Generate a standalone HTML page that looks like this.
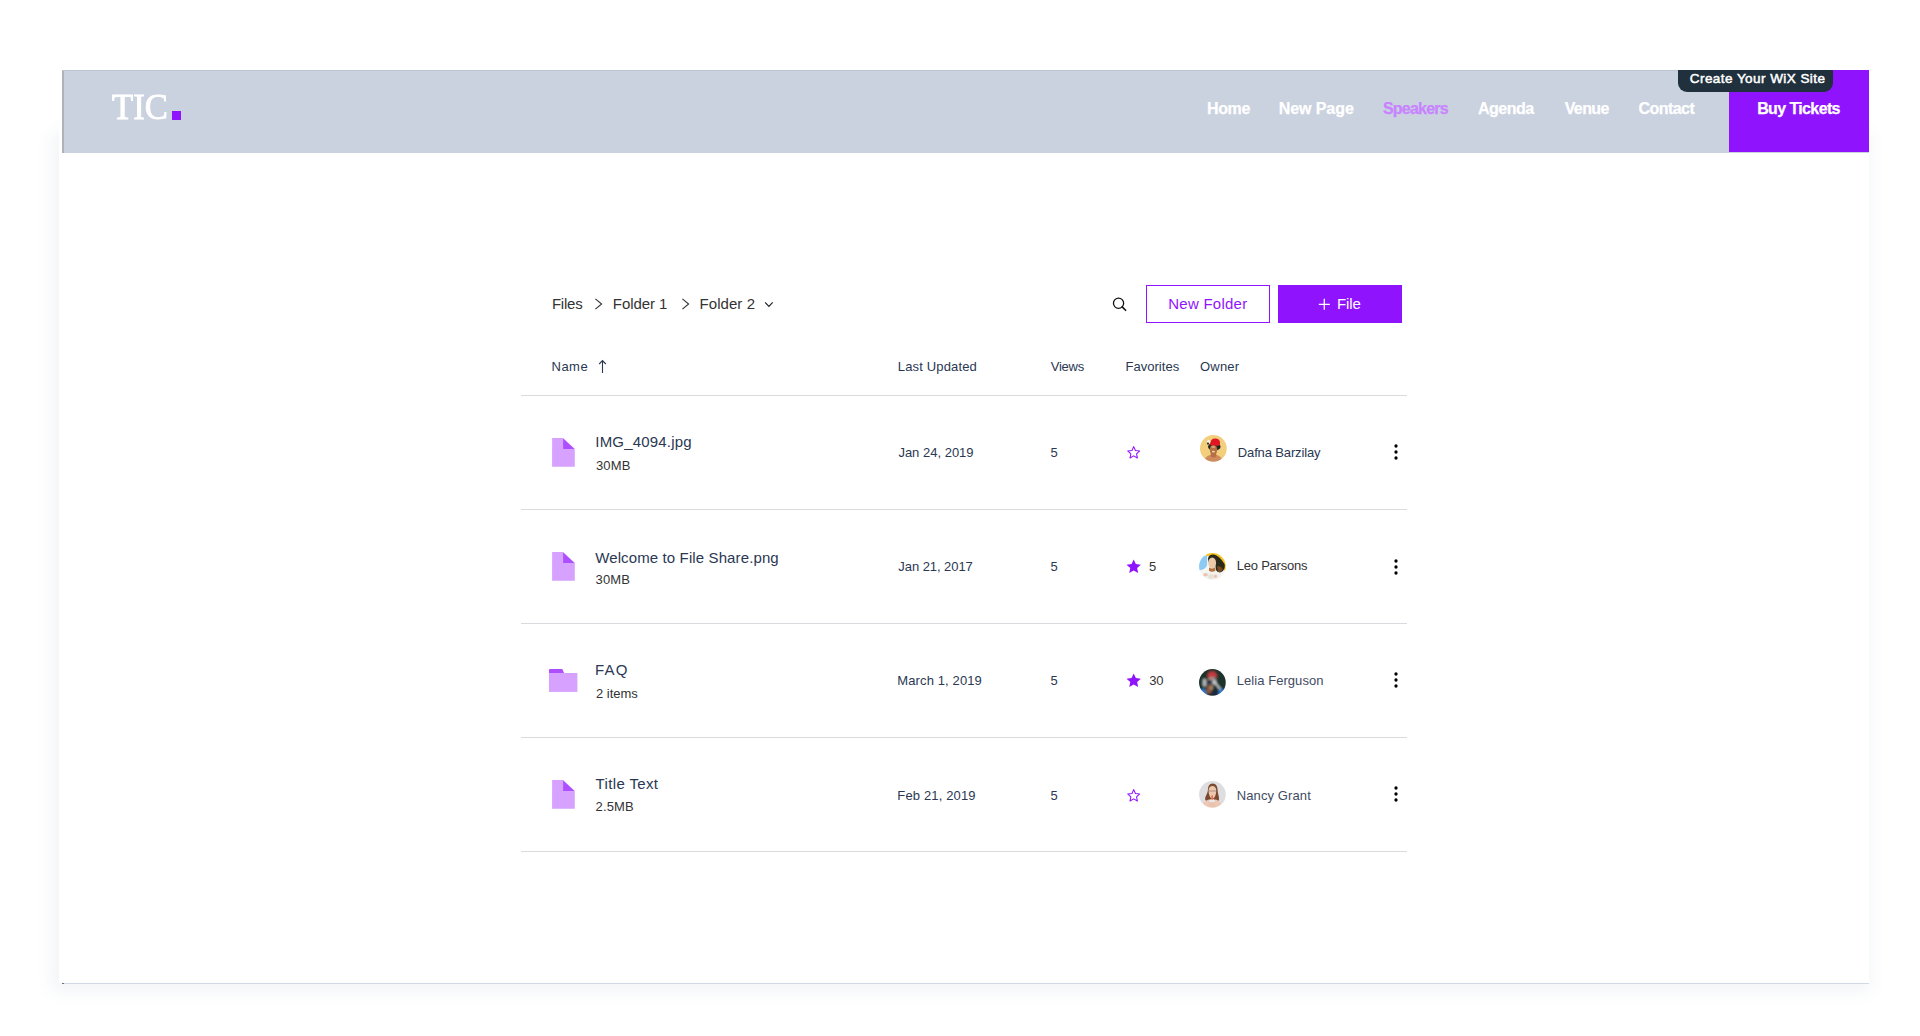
<!DOCTYPE html>
<html lang="en"><head><meta charset="utf-8"><title>TIC. – Files</title>
<style>
html,body{margin:0;padding:0;background:#fff}
body{width:1920px;height:1036px;position:relative;overflow:hidden;font-family:"Liberation Sans", sans-serif;}
header,nav,main,section{display:block;margin:0;padding:0}
.t{position:absolute;white-space:pre;line-height:1;}
.i{position:absolute;display:block;overflow:visible}
/* page card + soft drop shadow */
.card{position:absolute;left:59px;top:132px;width:1810px;height:851px;background:#fff;box-shadow:-3px 4px 16px 4px rgba(75,95,135,.07)}
.cardw{position:absolute;left:59px;top:60px;width:1810px;height:923px;background:#fff}
.cardline{position:absolute;left:62px;top:982.5px;width:1807px;height:1.5px;background:#d3d9e4}
.carddot{position:absolute;left:62px;top:982.5px;width:2px;height:1.5px;background:#6a6f78}
/* site header */
.hdr{position:absolute;left:62px;top:70px;width:1807px;height:83.3px;background:#cad1df;box-sizing:border-box;border-left:2px solid #afb2b9}
.hdrtop{position:absolute;left:62px;top:70px;width:1807px;height:1px;background:#bdc4d2}
.buy{position:absolute;left:1729px;top:70px;width:140px;height:82.3px;background:#9013fe}
.badge{position:absolute;left:1677.5px;top:70px;width:155.5px;height:22px;background:#20303c;border-radius:0 0 9px 9px}
.logo{position:absolute;white-space:pre;line-height:1;font-family:"Liberation Serif", serif;color:#fff;transform-origin:0 0;left:112.3px;top:89px;font-size:36.5px;transform:scaleX(.95);-webkit-text-stroke:.9px #fff}
.sq{position:absolute;left:172px;top:111px;width:9px;height:9px;background:#9013fe}
/* file manager */
.hr{position:absolute;left:521px;width:886px;height:1px;background:#d9dadd}
.btn1{position:absolute;left:1146px;top:285px;width:124px;height:38px;box-sizing:border-box;border:1px solid #9013fe;background:#fff}
.btn2{position:absolute;left:1278px;top:285px;width:124px;height:38px;background:#9013fe}
</style></head><body>
<div class="card"></div><div class="cardw"></div><div class="cardline"></div><div class="carddot"></div>
<header>
<div class="hdr"></div><div class="hdrtop"></div>
<span class="logo">TIC</span><div class="sq"></div>
<nav>
<div class="buy"></div><div class="badge"></div>
<a class="t" style="left:1206.9px;top:101px;font-size:16px;letter-spacing:-0.3px;color:#ffffff;font-weight:700;-webkit-text-stroke:.25px #fff;">Home</a>
<a class="t" style="left:1278.7px;top:101px;font-size:16px;letter-spacing:-0.07px;color:#ffffff;font-weight:700;-webkit-text-stroke:.25px #fff;">New Page</a>
<a class="t" style="left:1382.9px;top:101px;font-size:16px;letter-spacing:-0.77px;color:#c883ff;font-weight:700;-webkit-text-stroke:.25px #c883ff;">Speakers</a>
<a class="t" style="left:1477.9px;top:101px;font-size:16px;letter-spacing:-0.46px;color:#ffffff;font-weight:700;-webkit-text-stroke:.25px #fff;">Agenda</a>
<a class="t" style="left:1564.7px;top:101px;font-size:16px;letter-spacing:-0.62px;color:#ffffff;font-weight:700;-webkit-text-stroke:.25px #fff;">Venue</a>
<a class="t" style="left:1638.4px;top:101px;font-size:16px;letter-spacing:-0.53px;color:#ffffff;font-weight:700;-webkit-text-stroke:.25px #fff;">Contact</a>
<a class="t" style="left:1757.2px;top:101px;font-size:16px;letter-spacing:-0.62px;color:#ffffff;font-weight:700;-webkit-text-stroke:.25px #fff;">Buy Tickets</a>
<a class="t" style="left:1689.8px;top:72px;font-size:13.5px;letter-spacing:0.44px;color:#ffffff;-webkit-text-stroke:.5px #fff;">Create Your WiX Site</a>
</nav>
</header>
<main>
<section class="toolbar">
<a class="t" style="left:551.9px;top:296px;font-size:15px;letter-spacing:-0.22px;color:#333333;">Files</a>
<a class="t" style="left:612.8px;top:296px;font-size:15px;letter-spacing:-0.07px;color:#333333;">Folder 1</a>
<a class="t" style="left:699.5px;top:296px;font-size:15px;letter-spacing:0.07px;color:#333333;">Folder 2</a>
<svg class="i" style="left:594px;top:297px" width="10" height="14" viewBox="0 0 10 14"><path d="M1.4 1.9L7.6 7L1.4 12.1" fill="none" stroke="#333" stroke-width="1.1"/></svg>
<svg class="i" style="left:681px;top:297px" width="10" height="14" viewBox="0 0 10 14"><path d="M1.4 1.9L7.6 7L1.4 12.1" fill="none" stroke="#333" stroke-width="1.1"/></svg>
<svg class="i" style="left:763px;top:300px" width="12" height="9" viewBox="0 0 12 9"><path d="M2.1 2.4L5.9 6.3L9.7 2.4" fill="none" stroke="#222" stroke-width="1.2"/></svg>
<svg class="i" style="left:1111px;top:296px" width="17" height="17" viewBox="0 0 17 17"><circle cx="7.55" cy="7.25" r="5.1" fill="none" stroke="#111" stroke-width="1.3"/><path d="M11.2 10.9L14.6 14.3" stroke="#111" stroke-width="1.6" stroke-linecap="round" fill="none"/></svg>
<div class="btn1"></div><div class="btn2"></div>
<svg class="i" style="left:1318px;top:298px" width="13" height="13" viewBox="0 0 13 13"><path d="M6.3 0.8V11.8M0.8 6.3H11.8" stroke="#fff" stroke-width="1.3" fill="none"/></svg>
<span class="t" style="left:1168.2px;top:296px;font-size:15px;letter-spacing:0.26px;color:#9013fe;">New Folder</span>
<span class="t" style="left:1337.0px;top:296px;font-size:15px;letter-spacing:-0.07px;color:#ffffff;">File</span>
</section>
<section class="thead">
<span class="t" style="left:551.5px;top:360px;font-size:13px;letter-spacing:0.5px;color:#2a3853;">Name</span>
<span class="t" style="left:897.8px;top:360px;font-size:13px;letter-spacing:0.15px;color:#2a3853;">Last Updated</span>
<span class="t" style="left:1050.8px;top:360px;font-size:13px;letter-spacing:-0.25px;color:#2a3853;">Views</span>
<span class="t" style="left:1125.4px;top:360px;font-size:13px;letter-spacing:0.05px;color:#2a3853;">Favorites</span>
<span class="t" style="left:1200.0px;top:360px;font-size:13px;letter-spacing:0.2px;color:#2a3853;">Owner</span>
<svg class="i" style="left:597px;top:359px" width="11" height="15" viewBox="0 0 11 15"><path d="M5.5 14V1.8M2.2 5L5.5 1.6L8.8 5" fill="none" stroke="#2a3853" stroke-width="1.1"/></svg>
<div class="hr" style="top:395px"></div>
</section>
<section class="row">
<svg class="i" style="left:552px;top:438px" width="23" height="29" viewBox="0 0 23 29"><path d="M.1 0H11.1L22.800 10.900V28.700H.1Z" fill="#d6a1ff"/><path d="M11.1 .4L22.500 11H11.1Z" fill="#ad4fff"/></svg>
<svg class="i" style="left:1126px;top:445px" width="16" height="15" viewBox="0 0 16 15"><path d="M7.7 1.6L9.45 5.5L13.7 5.95L10.55 8.8L11.4 13L7.7 10.85L4 13L4.85 8.8L1.7 5.95L5.95 5.5Z" fill="none" stroke="#9013fe" stroke-width="1.08" stroke-linejoin="round"/></svg>
<svg class="i" style="left:1200.2px;top:435.2px" width="26.8" height="26.8" viewBox="0 0 26.8 26.8"><defs><clipPath id="c1"><circle cx="13.4" cy="13.4" r="13.35"/></clipPath><filter id="b1" x="-10%" y="-10%" width="120%" height="120%"><feGaussianBlur stdDeviation="0.55"/></filter></defs><g clip-path="url(#c1)"><g filter="url(#b1)">
<rect x="-3" y="-3" width="33" height="33" fill="#f3ce7c"/>
<path d="M3.5 27C4.5 22.5 8.500 20.300 11 19.800L16 19.800C18.500 20.300 22 22.500 23.300 27Z" fill="#cf8a5d"/>
<path d="M10.800 16.500H16.200V21.500C14.500 23 12.500 23 10.800 21.500Z" fill="#b66f42"/>
<ellipse cx="14.300" cy="11.800" rx="6.300" ry="3.900" fill="#1e2a22"/>
<ellipse cx="13.500" cy="14.800" rx="3.700" ry="5" fill="#b5703f"/>
<ellipse cx="13.300" cy="12" rx="2.100" ry="1.100" fill="#d9a77c"/>
<ellipse cx="13.400" cy="16.600" rx="1.600" ry=".9" fill="#e9d2bf"/>
<path d="M10.300 10.600C9.700 6.500 12 3.300 14.800 3.600C16.300 3 19 3.900 19.800 6.200C20.600 8.800 19.500 10.800 17.600 10.900C15 11 12.500 9.500 10.300 10.600Z" fill="#e01222"/>
<circle cx="8.700" cy="6.700" r="1.700" fill="#f6f3f0"/>
<circle cx="8" cy="8.600" r="1.100" fill="#2a2f2a"/>
</g></g></svg>
<svg class="i" style="left:1393px;top:443.2px" width="6" height="18" viewBox="0 0 6 18"><circle cx="3" cy="3" r="1.65" fill="#000"/><circle cx="3" cy="9" r="1.65" fill="#000"/><circle cx="3" cy="15" r="1.65" fill="#000"/></svg>
<span class="t" style="left:595.3px;top:434px;font-size:15px;letter-spacing:0.18px;color:#2a3853;">IMG_4094.jpg</span>
<span class="t" style="left:596.0px;top:459px;font-size:13px;letter-spacing:0.13px;color:#333333;">30MB</span>
<span class="t" style="left:898.4px;top:446px;font-size:13px;letter-spacing:0.0px;color:#2a3853;">Jan 24, 2019</span>
<span class="t" style="left:1050.6px;top:446px;font-size:13px;letter-spacing:0px;color:#2a3853;">5</span>
<span class="t" style="left:1237.8px;top:446px;font-size:13px;letter-spacing:-0.14px;color:#2a3853;">Dafna Barzilay</span>
<div class="hr" style="top:509px"></div>
</section>
<section class="row">
<svg class="i" style="left:552px;top:552px" width="23" height="29" viewBox="0 0 23 29"><path d="M.1 0H11.1L22.800 10.900V28.700H.1Z" fill="#d6a1ff"/><path d="M11.1 .4L22.500 11H11.1Z" fill="#ad4fff"/></svg>
<svg class="i" style="left:1126px;top:559px" width="16" height="15" viewBox="0 0 16 15"><path d="M7.7 0.4L9.85 5.1L14.9 5.65L11.15 9.1L12.15 14.1L7.7 11.6L3.25 14.1L4.25 9.1L0.5 5.65L5.55 5.1Z" fill="#9013fe"/></svg>
<svg class="i" style="left:1199.4px;top:552.9px" width="26.8" height="26.8" viewBox="0 0 26.8 26.8"><defs><clipPath id="c2"><circle cx="13.4" cy="13.4" r="13.35"/></clipPath><filter id="b2" x="-10%" y="-10%" width="120%" height="120%"><feGaussianBlur stdDeviation="0.55"/></filter></defs><g clip-path="url(#c2)"><g filter="url(#b2)">
<rect x="-3" y="-3" width="33" height="33" fill="#f8f6f3"/>
<path d="M7 -2H30V19C26 19 22 14 19 9C16 5 11 3 7 3Z" fill="#f4c220"/>
<path d="M-2 4C3 2.500 6 2.800 8.100 2.800V12C7 15.500 4 17.500 -2 17.200Z" fill="#8ecbf3"/>
<path d="M9 5.500C9.500 2 13.500 .6 17 2.200C21 4 23.500 8 25.600 11C26.500 15 24.500 19 20.500 19.500C17.500 19.500 16.500 16 16.500 13L9.500 9Z" fill="#2a2a1f"/>
<path d="M18 13.500C20.500 13 23 14 23.500 16.500C22.800 18.800 21 19.500 19 18.800Z" fill="#7a4a22"/>
<ellipse cx="13.200" cy="10" rx="3.900" ry="5.600" fill="#ecc9a8"/>
<path d="M10 14.500C11.500 16 14.500 16 16 14.200L16.500 17.800C14.500 19.200 11.500 19.200 10 17.800Z" fill="#b2713a"/>
<path d="M2 27C3 21 7 18.600 10 18.200C12 19.600 14.500 19.600 16.500 18.200C20 18.600 23.500 21 24.500 27Z" fill="#f3f1ee"/>
<ellipse cx="6.500" cy="21.800" rx="2.300" ry="1.800" fill="#ecc4ae"/>
<ellipse cx="16.500" cy="23.300" rx="1.700" ry="1.700" fill="#ecc4ae"/>
<ellipse cx="12" cy="23.500" rx="3" ry="2.200" fill="#e6e2da"/>
</g></g></svg>
<svg class="i" style="left:1393px;top:557.5px" width="6" height="18" viewBox="0 0 6 18"><circle cx="3" cy="3" r="1.65" fill="#000"/><circle cx="3" cy="9" r="1.65" fill="#000"/><circle cx="3" cy="15" r="1.65" fill="#000"/></svg>
<span class="t" style="left:595.2px;top:550px;font-size:15px;letter-spacing:0.12px;color:#2a3853;">Welcome to File Share.png</span>
<span class="t" style="left:595.6px;top:573px;font-size:13px;letter-spacing:0.13px;color:#333333;">30MB</span>
<span class="t" style="left:898.3px;top:560px;font-size:13px;letter-spacing:-0.06px;color:#2a3853;">Jan 21, 2017</span>
<span class="t" style="left:1050.6px;top:560px;font-size:13px;letter-spacing:0px;color:#2a3853;">5</span>
<span class="t" style="left:1149.0px;top:560px;font-size:13px;letter-spacing:0px;color:#333333;">5</span>
<span class="t" style="left:1236.8px;top:559px;font-size:13px;letter-spacing:-0.23px;color:#333333;">Leo Parsons</span>
<div class="hr" style="top:623px"></div>
</section>
<section class="row">
<svg class="i" style="left:549px;top:669px" width="29" height="23" viewBox="0 0 29 23"><path d="M0 .7Q0 0 .7 0H13.300L15.100 4.100H0Z" fill="#ad4fff"/><rect x="0" y="4" width="28.400" height="18.900" fill="#d6a1ff"/></svg>
<svg class="i" style="left:1126px;top:673px" width="16" height="15" viewBox="0 0 16 15"><path d="M7.7 0.4L9.85 5.1L14.9 5.65L11.15 9.1L12.15 14.1L7.7 11.6L3.25 14.1L4.25 9.1L0.5 5.65L5.55 5.1Z" fill="#9013fe"/></svg>
<svg class="i" style="left:1199.4px;top:669.0px" width="26.8" height="26.8" viewBox="0 0 26.8 26.8"><defs><clipPath id="c3"><circle cx="13.4" cy="13.4" r="13.35"/></clipPath><filter id="b3" x="-10%" y="-10%" width="120%" height="120%"><feGaussianBlur stdDeviation="0.8"/></filter></defs><g clip-path="url(#c3)"><g filter="url(#b3)">
<rect x="-3" y="-3" width="33" height="33" fill="#1c3329"/>
<path d="M2 27V20.500L5.500 19L8 27Z" fill="#2f7bd0"/>
<path d="M19 27L20.500 19L23.500 19.500L25.500 24V27Z" fill="#2f7bd0"/>
<path d="M8 27L9.500 20H17.500L19 27Z" fill="#1b2a3a"/>
<ellipse cx="13" cy="12.300" rx="4.600" ry="4.800" fill="#8c8e92"/>
<path d="M8.400 8.800C8.200 4.500 10.500 2.600 13.200 2.600S18.200 4.500 18 8.800C15 7.900 11.400 7.900 8.400 8.800Z" fill="#c23a40"/>
<rect x="9.500" y="9.300" width="4.500" height="2.200" fill="#d9a57c"/>
<rect x="8" y="10.800" width="6" height="4.800" rx=".8" fill="#2a3140"/>
<ellipse cx="15" cy="13" rx="1.900" ry="1.800" fill="#c9cbd0"/>
<path d="M15 13.500L16.300 12.500L21.800 19.800L20.600 20.800Z" fill="#d6d7da"/>
<rect x="3.800" y="9.800" width="3.600" height="7.800" rx="1.600" fill="#b4b7bc"/>
<path d="M7 24L8 16.500L13.500 15.500L13 22L10 25Z" fill="#8c5a3a"/>
<circle cx="12.500" cy="19" r="1.300" fill="#c9a48a"/>
</g></g></svg>
<svg class="i" style="left:1393px;top:671.4px" width="6" height="18" viewBox="0 0 6 18"><circle cx="3" cy="3" r="1.65" fill="#000"/><circle cx="3" cy="9" r="1.65" fill="#000"/><circle cx="3" cy="15" r="1.65" fill="#000"/></svg>
<span class="t" style="left:595.0px;top:662px;font-size:15px;letter-spacing:1.15px;color:#2a3853;">FAQ</span>
<span class="t" style="left:596.0px;top:687px;font-size:13px;letter-spacing:-0.03px;color:#333333;">2 items</span>
<span class="t" style="left:897.3px;top:674px;font-size:13px;letter-spacing:0.12px;color:#2a3853;">March 1, 2019</span>
<span class="t" style="left:1050.6px;top:674px;font-size:13px;letter-spacing:0px;color:#2a3853;">5</span>
<span class="t" style="left:1149.2px;top:674px;font-size:13px;letter-spacing:-0.2px;color:#333333;">30</span>
<span class="t" style="left:1236.8px;top:674px;font-size:13px;letter-spacing:0.05px;color:#3f4b63;">Lelia Ferguson</span>
<div class="hr" style="top:737px"></div>
</section>
<section class="row">
<svg class="i" style="left:552px;top:780px" width="23" height="29" viewBox="0 0 23 29"><path d="M.1 0H11.1L22.800 10.900V28.700H.1Z" fill="#d6a1ff"/><path d="M11.1 .4L22.500 11H11.1Z" fill="#ad4fff"/></svg>
<svg class="i" style="left:1126px;top:788px" width="16" height="15" viewBox="0 0 16 15"><path d="M7.7 1.6L9.45 5.5L13.7 5.95L10.55 8.8L11.4 13L7.7 10.85L4 13L4.85 8.8L1.7 5.95L5.95 5.5Z" fill="none" stroke="#9013fe" stroke-width="1.08" stroke-linejoin="round"/></svg>
<svg class="i" style="left:1199.3px;top:781.3px" width="26.8" height="26.8" viewBox="0 0 26.8 26.8"><defs><clipPath id="c4"><circle cx="13.4" cy="13.4" r="13.35"/></clipPath><filter id="b4" x="-10%" y="-10%" width="120%" height="120%"><feGaussianBlur stdDeviation="0.55"/></filter></defs><g clip-path="url(#c4)"><g filter="url(#b4)">
<rect x="-3" y="-3" width="33" height="33" fill="#dedee1"/>
<path d="M13.700 2.400C17.200 2.400 18.600 5.500 18.600 9C18.800 13 20.300 15.500 20 18.500C19.500 20.800 17.500 21 15.500 20.500H11.500C9.500 21 7 20.800 6.200 18.500C5.800 15.500 8.600 13 8.900 9C9 5.500 10.200 2.400 13.700 2.400Z" fill="#7a4a2e"/>
<path d="M9.600 9.500C9.600 6.500 11.200 4.900 13.400 4.900S17.200 6.500 17.200 9.500C17.200 14 15.500 17.600 13.400 17.600S9.600 14 9.600 9.500Z" fill="#ebc7ad"/>
<rect x="9.800" y="9.700" width="7.400" height=".6" fill="#6b5a58" opacity=".8"/>
<path d="M2.500 27C3 21.500 6.500 19.300 10.500 18.500L13.400 20.500L16.300 18.500C20 19.300 23 21.500 23.500 27Z" fill="#ecc9b6"/>
<path d="M10.200 19L13.300 17.500L16.200 19L15 22H11.200Z" fill="#ebe8ec"/>
<rect x="12.400" y="14.300" width="1.500" height="4.600" rx=".6" fill="#f0604a"/>
<ellipse cx="13.200" cy="23.500" rx="3.800" ry="2.500" fill="#eac3ae"/>
</g></g></svg>
<svg class="i" style="left:1393px;top:785.4px" width="6" height="18" viewBox="0 0 6 18"><circle cx="3" cy="3" r="1.65" fill="#000"/><circle cx="3" cy="9" r="1.65" fill="#000"/><circle cx="3" cy="15" r="1.65" fill="#000"/></svg>
<span class="t" style="left:595.6px;top:776px;font-size:15px;letter-spacing:0.36px;color:#2a3853;">Title Text</span>
<span class="t" style="left:595.6px;top:800px;font-size:13px;letter-spacing:0.1px;color:#333333;">2.5MB</span>
<span class="t" style="left:897.3px;top:789px;font-size:13px;letter-spacing:0.15px;color:#2a3853;">Feb 21, 2019</span>
<span class="t" style="left:1050.6px;top:789px;font-size:13px;letter-spacing:0px;color:#2a3853;">5</span>
<span class="t" style="left:1236.8px;top:789px;font-size:13px;letter-spacing:0.1px;color:#3f4b63;">Nancy Grant</span>
<div class="hr" style="top:851px"></div>
</section>
</main>
</body></html>
